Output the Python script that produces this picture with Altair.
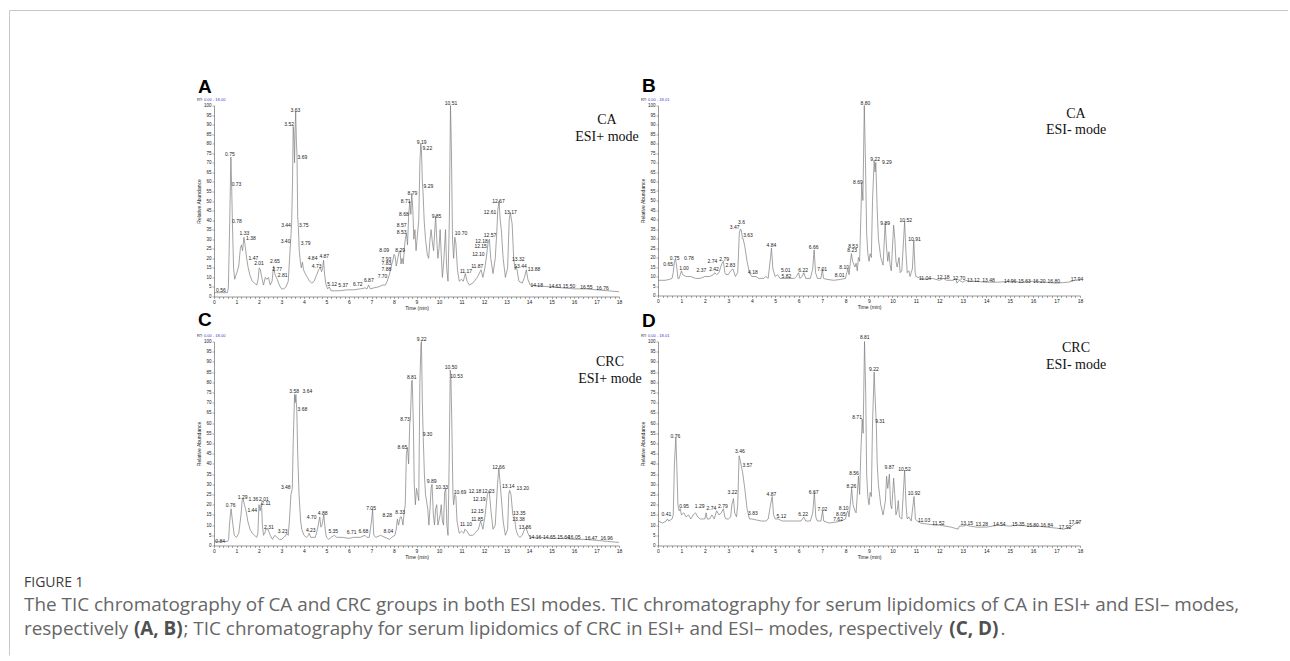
import altair as alt
import pandas as pd

SANS = "Liberation Sans"
SERIF = "Liberation Serif"
TRACE = "#7d7d7d"

# ---------------- Panel A : CA, ESI+ ----------------
A_time = [0, 0.6, 0.64, 0.7, 0.75, 0.79, 0.82, 0.87, 0.92, 0.97, 1.03, 1.1, 1.17, 1.22, 1.27, 1.33, 1.38, 1.45, 1.52, 1.6,
          1.7, 1.8, 1.9, 1.96, 2.01, 2.06, 2.12, 2.2, 2.28, 2.35, 2.42, 2.5, 2.58, 2.65, 2.7, 2.77, 2.81, 2.9, 3.0, 3.1,
          3.2, 3.3, 3.36, 3.41, 3.45, 3.49, 3.52, 3.55, 3.58, 3.6, 3.63, 3.66, 3.69, 3.72, 3.75, 3.79, 3.84, 3.88, 3.93, 3.98,
          4.05, 4.15, 4.25, 4.35, 4.45, 4.55, 4.65, 4.73, 4.78, 4.83, 4.87, 4.92, 4.98, 5.05, 5.12, 5.2, 5.37, 5.6, 5.9, 6.2,
          6.5, 6.72, 6.8, 6.87, 6.95, 7.1, 7.3, 7.5, 7.62, 7.7, 7.78, 7.85, 7.9, 7.95, 8.0, 8.05, 8.1, 8.17, 8.22, 8.27,
          8.31, 8.36, 8.41, 8.46, 8.5, 8.55, 8.6, 8.65, 8.7, 8.75, 8.79, 8.84, 8.88, 8.93, 8.98, 9.04, 9.1, 9.15, 9.19, 9.22,
          9.26, 9.29, 9.34, 9.4, 9.48, 9.54, 9.6, 9.65, 9.7, 9.76, 9.85, 9.9, 9.95, 10.0, 10.05, 10.1, 10.15, 10.21, 10.29, 10.34,
          10.4, 10.46, 10.51, 10.55, 10.6, 10.65, 10.7, 10.75, 10.82, 10.9, 11.0, 11.08, 11.17, 11.25, 11.35, 11.5, 11.7, 11.87, 11.95, 12.04,
          12.1, 12.18, 12.24, 12.3, 12.4, 12.5, 12.57, 12.61, 12.67, 12.72, 12.77, 12.85, 12.95, 13.05, 13.12, 13.17, 13.25, 13.32, 13.38, 13.44,
          13.55, 13.7, 13.8, 13.88, 13.95, 14.05, 14.5, 15.0, 15.5, 16.0, 16.5, 17.0, 17.5, 18.0]
A_abund = [2, 2, 5, 40, 73, 55, 38, 15, 9, 11, 13, 16, 25, 27, 24, 31, 27, 20, 15, 11,
           8, 7, 6, 9, 15, 14, 10, 6, 10, 9, 10, 6, 8, 16, 12, 10, 9, 6, 4, 4,
           5, 8, 20, 30, 38, 60, 89, 84, 70, 86, 97, 82, 73, 42, 36, 24, 18, 15, 18, 14,
           12, 10, 8, 7, 8, 11, 14, 15, 13, 15, 19, 11, 6, 4, 5, 3, 3, 3, 3.5, 3.5,
           4, 4.5, 4, 6, 4, 4.5, 5, 6, 6, 8, 11, 14, 17, 19, 22, 21, 16, 20, 23, 24,
           17, 20, 17, 25, 30, 33, 27, 42, 50, 43, 54, 45, 30, 35, 24, 32, 40, 70, 80, 77,
           60, 55, 40, 30, 22, 20, 30, 35, 29, 24, 42, 30, 20, 25, 35, 22, 10, 18, 35, 15,
           8, 40, 100, 78, 30, 20, 31, 28, 14, 8, 9, 8, 12, 8, 6, 7, 10, 14, 10, 15,
           20, 28, 30, 20, 12, 20, 34, 45, 50, 40, 35, 20, 10, 15, 40, 44, 38, 20, 14, 16,
           8, 7, 10, 14, 9, 6, 5.5, 5, 4.5, 4, 4, 3.5, 3, 2.5]
A_labels = ["0.56", "0.75", "0.73", "0.78", "1.33", "1.38", "1.47", "2.01", "2.65", "2.77", "2.81", "3.44", "3.40", "3.52",
            "3.63", "3.69", "3.75", "3.79", "4.84", "4.87", "4.73", "5.12", "5.37", "6.72", "6.87", "7.70", "7.88", "7.83",
            "7.93", "8.09", "8.29", "8.53", "8.57", "8.68", "8.71", "8.79", "9.19", "9.22", "9.29", "9.85", "10.51", "10.70",
            "11.17", "11.87", "12.10", "12.15", "12.18", "12.57", "12.61", "12.67", "13.17", "13.32", "13.44", "13.88",
            "14.18", "14.63", "15.50", "16.55", "16.76"]
A_lab_t = [0.31, 0.71, 1.0, 1.02, 1.35, 1.64, 1.75, 2.0, 2.71, 2.81, 3.05, 3.2, 3.18, 3.34,
           3.62, 3.93, 3.99, 4.07, 4.38, 4.9, 4.56, 5.25, 5.74, 6.39, 6.88, 7.49, 7.66, 7.66,
           7.66, 7.56, 8.27, 8.34, 8.34, 8.44, 8.52, 8.82, 9.23, 9.48, 9.53, 9.89, 10.53, 10.98,
           11.2, 11.7, 11.75, 11.85, 11.89, 12.27, 12.27, 12.64, 13.18, 13.52, 13.62, 14.22,
           14.34, 15.15, 15.78, 16.55, 17.27]
A_lab_v = [3.5, 74.6, 59, 39.5, 33.2, 30.4, 20.1, 17.5, 18.4, 14.3, 11.4, 37.4, 29.2, 90.4,
           97.7, 72.9, 37.4, 28, 20.1, 21, 16.1, 6.5, 6, 6.8, 8.6, 10.5, 14.2, 17.3,
           19.8, 24.5, 24.6, 34, 37.5, 43, 50, 54.4, 81, 78, 58, 42, 101.5, 33.3,
           13.6, 15.9, 22.5, 26.7, 29, 32, 44.4, 49.8, 44.4, 19.4, 16.2, 14.3,
           6, 5.7, 5.4, 5.2, 4.7]

# ---------------- Panel B : CA, ESI- ----------------
B_time = [0, 0.3, 0.5, 0.6, 0.65, 0.7, 0.75, 0.8, 0.85, 0.9, 0.95, 1.0, 1.05, 1.2, 1.4, 1.6, 1.8, 2.0, 2.2, 2.37,
          2.42, 2.5, 2.6, 2.7, 2.74, 2.79, 2.85, 2.9, 3.0, 3.1, 3.2, 3.3, 3.4, 3.47, 3.52, 3.56, 3.6, 3.63, 3.7, 3.8,
          3.9, 4.0, 4.18, 4.3, 4.5, 4.6, 4.7, 4.8, 4.84, 4.9, 5.0, 5.1, 5.2, 5.5, 5.82, 5.9, 6.0, 6.05, 6.15, 6.22,
          6.3, 6.5, 6.6, 6.66, 6.72, 6.8, 6.95, 7.01, 7.06, 7.2, 7.5, 7.8, 8.0, 8.05, 8.1, 8.15, 8.2, 8.25, 8.3, 8.4,
          8.45, 8.5, 8.55, 8.6, 8.65, 8.69, 8.74, 8.8, 8.85, 8.9, 8.95, 9.0, 9.05, 9.1, 9.15, 9.22, 9.26, 9.29, 9.35, 9.4,
          9.5, 9.6, 9.69, 9.75, 9.8, 9.85, 9.9, 9.95, 10.05, 10.1, 10.15, 10.2, 10.28, 10.33, 10.4, 10.52, 10.58, 10.63, 10.7, 10.75,
          10.85, 10.91, 10.97, 11.0, 11.2, 11.5, 11.7, 12.0, 12.18, 12.3, 12.6, 12.7, 12.75, 12.85, 13.0, 13.12, 13.3, 13.5, 14.0, 14.5,
          15.0, 15.5, 16.0, 16.5, 17.0, 17.5, 17.8, 18.0]
B_abund = [8, 8, 8.5, 9, 12, 18, 19, 15, 9, 9, 11, 13, 11, 10, 10, 9, 9, 10, 10, 11,
           12, 11, 12, 16, 17, 18, 12, 11, 11, 13, 14, 10, 12, 33, 35, 34, 30, 30, 26, 18,
           12, 10, 10, 9, 9, 10, 9, 20, 25, 14, 10, 11, 9, 9, 9, 10, 12, 9, 10, 12,
           9, 9, 14, 24, 12, 9, 9, 14, 9, 8.5, 8, 8.5, 9, 12, 14, 11, 17, 22, 18, 15,
           17, 13, 20, 18, 40, 59, 50, 100, 70, 33, 22, 18, 22, 20, 50, 71, 65, 70, 45, 30,
           20, 16, 38, 25, 18, 23, 16, 13, 37, 30, 18, 15, 20, 12, 13, 39, 22, 12, 13, 10,
           14, 29, 12, 10, 9, 8.5, 9, 8, 9, 8, 8, 9, 6.5, 8, 7, 8, 7.5, 7.5, 7, 7,
           7.5, 7, 7.5, 7, 6.5, 7, 8, 8.5]
B_labels = ["0.65", "0.75", "0.78", "1.00", "2.37", "2.42", "2.74", "2.79", "2.83", "3.47", "3.6", "3.63", "4.18",
            "4.84", "5.01", "5.82", "6.22", "6.66", "7.01", "8.01", "8.10", "8.23", "8.53", "8.69", "8.80",
            "9.22", "9.29", "9.89", "10.52", "10.91", "11.04", "12.18", "12.70", "13.12", "13.48", "14.96",
            "15.63", "16.20", "16.80", "17.94"]
B_lab_t = [0.43, 0.71, 1.32, 1.11, 1.85, 2.39, 2.32, 2.82, 3.09, 3.27, 3.56, 3.84, 4.05,
           4.84, 5.45, 5.48, 6.19, 6.64, 7.0, 7.75, 7.94, 8.28, 8.32, 8.53, 8.85,
           9.26, 9.76, 9.69, 10.57, 10.94, 11.39, 12.17, 12.84, 13.45, 14.1, 15.02,
           15.63, 16.26, 16.88, 17.87]
B_lab_v = [16.7, 19.6, 19.6, 14.4, 13.2, 13.9, 18, 19.3, 16.1, 36, 38.6, 31.6, 12.3,
           26.7, 13.2, 10.2, 13.2, 25.4, 13.9, 10.9, 14.9, 23.7, 26.3, 60, 101.4,
           72, 70.5, 38, 39.8, 29.8, 9.1, 9.6, 9.1, 8.2, 8.2, 7.5,
           7.5, 7.5, 7.5, 8.8]

# ---------------- Panel C : CRC, ESI+ ----------------
C_time = [0, 0.6, 0.65, 0.7, 0.76, 0.82, 0.9, 1.0, 1.1, 1.2, 1.25, 1.29, 1.35, 1.4, 1.44, 1.5, 1.6, 1.7, 1.8, 1.9,
          1.95, 2.0, 2.05, 2.11, 2.15, 2.2, 2.25, 2.31, 2.4, 2.5, 2.6, 2.7, 2.8, 2.9, 3.0, 3.1, 3.2, 3.23, 3.3, 3.35,
          3.42, 3.48, 3.52, 3.58, 3.61, 3.64, 3.68, 3.72, 3.78, 3.85, 3.9, 4.0, 4.1, 4.2, 4.23, 4.3, 4.5, 4.6, 4.7, 4.75,
          4.8, 4.88, 4.95, 5.0, 5.1, 5.2, 5.35, 5.45, 5.7, 6.0, 6.2, 6.5, 6.71, 6.8, 6.9, 7.0, 7.05, 7.1, 7.2, 7.4,
          7.6, 7.8, 7.9, 8.04, 8.1, 8.15, 8.2, 8.28, 8.33, 8.4, 8.45, 8.5, 8.55, 8.6, 8.65, 8.7, 8.73, 8.78, 8.81, 8.86,
          8.9, 8.95, 9.0, 9.05, 9.1, 9.15, 9.2, 9.22, 9.26, 9.3, 9.35, 9.4, 9.5, 9.55, 9.6, 9.65, 9.69, 9.75, 9.8, 9.85,
          9.9, 9.95, 10.05, 10.1, 10.15, 10.2, 10.25, 10.3, 10.35, 10.4, 10.45, 10.5, 10.53, 10.57, 10.62, 10.65, 10.7, 10.75, 10.8, 10.9,
          11.0, 11.1, 11.15, 11.25, 11.35, 11.5, 11.6, 11.75, 11.85, 11.95, 12.05, 12.1, 12.15, 12.23, 12.3, 12.4, 12.5, 12.6, 12.66, 12.72,
          12.78, 12.85, 12.95, 13.05, 13.1, 13.14, 13.2, 13.28, 13.35, 13.42, 13.5, 13.6, 13.7, 13.8, 13.86, 13.95, 14.05, 14.5, 15.0, 15.5,
          16.0, 16.5, 17.0, 17.5, 18.0]
C_abund = [2, 2, 3, 12, 18, 12, 5, 4, 6, 15, 22, 23, 20, 18, 16, 12, 8, 6, 5, 4,
           6, 20, 17, 21, 10, 5, 6, 8, 8, 5, 3, 5, 4, 3, 3, 4, 5, 6, 5, 12,
           25, 28, 50, 74, 70, 74, 66, 45, 25, 12, 8, 5, 4, 5, 6, 4, 4, 8, 14, 9,
           10, 15, 7, 4, 3, 4, 5, 4, 4, 3.5, 4, 4, 5, 4, 4, 12, 18, 5, 4, 5,
           4, 3, 4, 5, 8, 13, 10, 14, 14, 10, 16, 20, 45, 48, 40, 60, 62, 80, 81, 60,
           30, 20, 28, 25, 22, 80, 99, 100, 70, 53, 35, 25, 18, 10, 18, 28, 30, 15, 10, 18,
           20, 10, 15, 20, 12, 10, 26, 28, 10, 5, 40, 86, 82, 60, 25, 20, 25, 24, 12, 6,
           7, 6, 8, 7, 5, 5, 6, 8, 12, 8, 15, 20, 25, 27, 18, 8, 10, 30, 38, 30,
           22, 12, 5, 8, 25, 27, 25, 15, 14, 8, 5, 4, 5, 8, 9, 6, 4, 4, 3.5, 3.5,
           3, 3, 2.5, 2, 1.5]
C_labels = ["0.84", "0.76", "1.29", "1.36", "1.44", "2.01", "2.11", "2.31", "3.23", "3.48", "3.58", "3.64", "3.68",
            "4.70", "4.88", "4.23", "5.35", "6.71", "6.68", "7.05", "8.04", "8.28", "8.33", "8.65", "8.73", "8.81",
            "9.22", "9.30", "9.89", "10.33", "10.50", "10.53", "10.69", "11.10", "11.85", "12.15", "12.19", "12.18",
            "12.23", "12.66", "13.14", "13.20", "13.35", "13.38", "13.86", "14.16", "14.65", "15.64", "16.05",
            "16.47", "16.96"]
C_lab_t = [0.27, 0.74, 1.27, 1.75, 1.7, 2.22, 2.31, 2.44, 3.05, 3.19, 3.56, 4.15, 3.93,
           4.34, 4.83, 4.3, 5.3, 6.12, 6.64, 6.98, 7.75, 7.7, 8.27, 8.37, 8.49, 8.79,
           9.23, 9.49, 9.67, 10.12, 10.53, 10.78, 10.93, 11.2, 11.7, 11.7, 11.79, 11.6,
           12.19, 12.64, 13.08, 13.72, 13.57, 13.53, 13.82, 14.27, 14.9, 15.53, 16.01,
           16.76, 17.45]
C_lab_v = [2.3, 19.8, 23.9, 23, 17.3, 22.7, 20.6, 9.3, 7.2, 28.9, 75.8, 75.8, 66.8,
           14.2, 15.7, 7.7, 6.9, 6.7, 6.9, 18.6, 6.9, 14.9, 16.2, 48.4, 62, 82.7,
           101, 54.6, 31.4, 28.9, 87.3, 83.2, 26, 10.5, 13.2, 17, 23, 26.5,
           26.8, 38.7, 29.2, 28.1, 15.8, 12.9, 9.3, 4.4, 4.2, 4.2, 4.2,
           3.9, 3.6]

# ---------------- Panel D : CRC, ESI- ----------------
D_time = [0, 0.2, 0.35, 0.4, 0.45, 0.6, 0.65, 0.7, 0.76, 0.8, 0.85, 0.9, 0.95, 1.0, 1.1, 1.2, 1.3, 1.4, 1.5, 1.6,
          1.7, 1.8, 2.0, 2.05, 2.1, 2.2, 2.3, 2.4, 2.5, 2.6, 2.7, 2.79, 2.85, 2.9, 3.0, 3.1, 3.15, 3.22, 3.27, 3.35,
          3.4, 3.46, 3.5, 3.57, 3.62, 3.7, 3.8, 3.9, 4.0, 4.2, 4.4, 4.6, 4.7, 4.8, 4.87, 4.93, 5.0, 5.12, 5.3, 5.6,
          5.9, 6.1, 6.22, 6.3, 6.5, 6.6, 6.67, 6.73, 6.8, 6.95, 7.02, 7.07, 7.3, 7.6, 7.8, 8.0, 8.05, 8.1, 8.15, 8.2,
          8.26, 8.32, 8.4, 8.45, 8.55, 8.6, 8.65, 8.71, 8.75, 8.81, 8.86, 8.9, 8.95, 9.0, 9.05, 9.1, 9.15, 9.22, 9.27, 9.31,
          9.35, 9.4, 9.5, 9.6, 9.7, 9.75, 9.8, 9.87, 9.92, 9.97, 10.05, 10.1, 10.15, 10.2, 10.25, 10.3, 10.4, 10.52, 10.58, 10.63,
          10.7, 10.8, 10.92, 10.98, 11.05, 11.2, 11.5, 11.8, 12.0, 12.5, 12.8, 12.85, 13.0, 13.15, 13.3, 13.6, 14.0, 14.54, 15.0, 15.35,
          15.8, 16.2, 16.6, 17.0, 17.3, 17.6, 17.8, 18.0]
D_abund = [12, 11, 12, 13, 12, 13, 15, 40, 53, 40, 20, 17, 18, 15, 16, 14, 15, 13, 15, 16,
           14, 13, 13, 16, 13, 13, 15, 13, 17, 15, 16, 18, 14, 13, 13, 14, 20, 23, 16, 14,
           20, 44, 42, 38, 35, 28, 18, 13, 13, 12.5, 12, 12, 13, 20, 24, 15, 13, 13, 12, 12,
           12, 12, 14, 12, 12, 16, 26, 14, 12, 12, 17, 12, 11, 11.5, 12, 13, 16, 17, 14, 20,
           28, 20, 17, 16, 34, 25, 45, 62, 55, 100, 75, 35, 24, 20, 26, 24, 60, 85, 70, 60,
           40, 30, 20, 15, 22, 34, 28, 35, 20, 18, 33, 25, 15, 17, 22, 14, 13, 37, 20, 13,
           14, 12, 24, 13, 12, 11, 10.5, 10, 10, 9, 8, 9.5, 9.5, 10, 9.5, 9, 9, 10, 9.5, 10,
           9.5, 9.5, 9, 8.5, 8, 9, 11, 11.5]
D_labels = ["0.41", "0.76", "0.95", "1.29", "2.74", "2.79", "3.22", "3.46", "3.57", "3.83", "4.87", "5.12", "6.22",
            "6.67", "7.02", "7.62", "8.05", "8.10", "8.26", "8.56", "8.71", "8.81", "9.22", "9.31", "9.87", "10.52",
            "10.92", "11.03", "11.52", "13.15", "13.28", "14.54", "15.35", "15.80", "16.84", "17.92", "17.97"]
D_lab_t = [0.36, 0.74, 1.11, 1.78, 2.28, 2.77, 3.17, 3.49, 3.81, 4.05, 4.84, 5.26, 6.19,
           6.64, 7.01, 7.68, 7.8, 7.92, 8.25, 8.36, 8.49, 8.82, 9.21, 9.47, 9.87, 10.51,
           10.92, 11.35, 11.96, 13.17, 13.81, 14.56, 15.37, 15.98, 16.58, 17.36, 17.79]
D_lab_v = [15.2, 53.8, 19.6, 19.2, 18.4, 19.6, 26.1, 46.5, 39.6, 16, 25.3, 14.4, 15.5,
           26.3, 18.1, 12.9, 15.5, 18.4, 29.4, 35.6, 63, 102, 86.6, 61.2, 38.5, 37.5,
           25.8, 12.4, 10.8, 10.8, 10.3, 10.3, 10.3, 10, 10, 9.1, 11.6]

X_TICKS = [round(i * 0.2, 1) for i in range(91)]
Y_TICKS = list(range(0, 101, 5))

CAPTION_HEAD = "FIGURE 1"
CAPTION_L1 = ("The TIC chromatography of CA and CRC groups in both ESI modes. TIC chromatography "
              "for serum lipidomics of CA in ESI+ and ESI\u2013 modes,")
# (text, bold, space after)
CAPTION_L2 = [("respectively", False, True), ("(A, B)", True, False),
              ("; TIC chromatography for serum lipidomics of CRC in ESI+ and ESI\u2013 modes, respectively", False, True),
              ("(C, D)", True, False), (".", False, False)]

# approximate Open Sans advance widths (em) for laying out caption pieces
W = {' ': .26, '(': .30, ')': .30, '+': .57, ',': .25, '-': .32, '.': .27, ';': .27, '\u2013': .50,
     'A': .63, 'B': .65, 'C': .63, 'D': .73, 'E': .56, 'I': .28, 'L': .52, 'M': .90, 'R': .62, 'S': .55, 'T': .56,
     'a': .56, 'b': .61, 'c': .48, 'd': .61, 'e': .56, 'f': .34, 'g': .55, 'h': .61, 'i': .25, 'k': .53,
     'l': .25, 'm': .93, 'n': .61, 'o': .60, 'p': .61, 'r': .41, 's': .48, 't': .35, 'u': .61, 'v': .50,
     'w': .78, 'y': .50}


def em(s, bold=False):
    return sum(W.get(c, .56) for c in s) * (1.08 if bold else 1.0)


CAP_FS = 1217 / em(CAPTION_L1)
ONE = pd.DataFrame({"k": [0]})


def txt(text, x, y, **kw):
    return alt.Chart(ONE).mark_text(text=text, **kw).encode(x=alt.value(x), y=alt.value(y))


def panel(t, v, labs, lt, lv, w, h, letter, letter_y, rt, g1, g2, ax, ay1, ay2, extra=()):
    xs = alt.Scale(domain=[0, 18], nice=False, zero=False)
    ys = alt.Scale(domain=[0, 100], nice=False, zero=False)
    xax = alt.Axis(values=X_TICKS,
                   labelExpr="abs(datum.value - round(datum.value)) < 0.01 ? format(round(datum.value), 'd') : ''",
                   title="Time (min)", titleFontSize=5, titleFontWeight="normal", titlePadding=1,
                   labelFontSize=5, labelPadding=1, tickSize=2, tickWidth=0.5, domainWidth=0.6,
                   domainColor="#555", tickColor="#555", labelColor="#222", titleColor="#222",
                   labelOverlap=False, labelFlush=False, grid=False, labelFont=SANS, titleFont=SANS)
    yax = alt.Axis(values=Y_TICKS, title="Relative Abundance", titleFontSize=5, titleFontWeight="normal",
                   titlePadding=1.5, labelFontSize=4.5, labelPadding=1, tickSize=2, tickWidth=0.5,
                   domainWidth=0.6, domainColor="#555", tickColor="#555", labelColor="#222", titleColor="#222",
                   labelOverlap=False, labelFlush=False, grid=False, labelFont=SANS, titleFont=SANS)
    X = alt.X("t:Q", scale=xs, axis=xax)
    Y = alt.Y("v:Q", scale=ys, axis=yax)
    line = alt.Chart(pd.DataFrame({"t": t, "v": v})).mark_line(
        color=TRACE, strokeWidth=0.7).encode(x=X, y=Y)
    lab = alt.Chart(pd.DataFrame({"lab": labs, "t": lt, "v": lv})).mark_text(
        fontSize=5, font=SANS, color="#222").encode(x=X, y=Y, text="lab:N")
    layers = [line, lab,
              txt(letter, -16, letter_y, fontSize=19, fontWeight="bold",
                  font=SANS, align="left", baseline="alphabetic", color="black"),
              txt("RT:", -17, -6, fontSize=4, font=SANS, align="left", baseline="middle", color="#222"),
              txt(rt, -10, -6, fontSize=4, font=SANS, align="left", baseline="middle", color="#3a3ad0"),
              txt(g1, ax, ay1, fontSize=14, font=SERIF, align="center", baseline="alphabetic", color="#111"),
              txt(g2, ax, ay2, fontSize=14, font=SERIF, align="center", baseline="alphabetic", color="#111")]
    layers += list(extra)
    return alt.layer(*layers).properties(width=w, height=h)


# frame (drawn in panel A coordinates)
frame = [
    alt.Chart(ONE).mark_rule(color="#c8c8c8", strokeWidth=1).encode(
        x=alt.value(-204.5), x2=alt.value(1074), y=alt.value(-95)),
    alt.Chart(ONE).mark_rule(color="#c8c8c8", strokeWidth=1).encode(
        x=alt.value(-204.5), y=alt.value(-95), y2=alt.value(550)),
]

# caption (drawn in panel C coordinates)
cap = [txt(CAPTION_HEAD, -190, 245, fontSize=14, font="Open Sans", align="left", baseline="alphabetic",
           color="#3c3c3c"),
       txt(CAPTION_L1, -190, 269, fontSize=CAP_FS, font="Open Sans", align="left", baseline="alphabetic",
           color="#666666")]
xpos = -190
for seg, bold, sp in CAPTION_L2:
    cap.append(txt(seg, xpos, 293, fontSize=CAP_FS, font="Open Sans", align="left", baseline="alphabetic",
                   color="#505050" if bold else "#666666", fontWeight="bold" if bold else "normal"))
    xpos += em(seg, bold) * CAP_FS + 0.8 + (W[' '] * CAP_FS if sp else 0)

pA = panel(A_time, A_abund, A_labels, A_lab_t, A_lab_v, 405, 191, "A", -13, "0.00 - 18.00",
           "CA", "ESI+ mode", 393, 18, 35, extra=frame)
pB = panel(B_time, B_abund, B_labels, B_lab_t, B_lab_v, 422, 190, "B", -14, "0.00 - 18.01",
           "CA", "ESI- mode", 418, 12, 28)
pC = panel(C_time, C_abund, C_labels, C_lab_t, C_lab_v, 405, 204, "C", -16, "0.00 - 18.00",
           "CRC", "ESI+ mode", 396, 24, 41, extra=cap)
pD = panel(D_time, D_abund, D_labels, D_lab_t, D_lab_v, 422, 204, "D", -15, "0.00 - 18.01",
           "CRC", "ESI- mode", 418, 10, 27)

chart = alt.concat(pA, pB, pC, pD, columns=2, spacing={"row": 45, "column": 39}, bounds="flush").properties(
    padding={"left": 9, "top": 9.5, "right": 0, "bottom": 0},
    background="white",
).configure_view(stroke=None)

chart.save("out.html", embed_options={"renderer": "svg", "actions": False})
